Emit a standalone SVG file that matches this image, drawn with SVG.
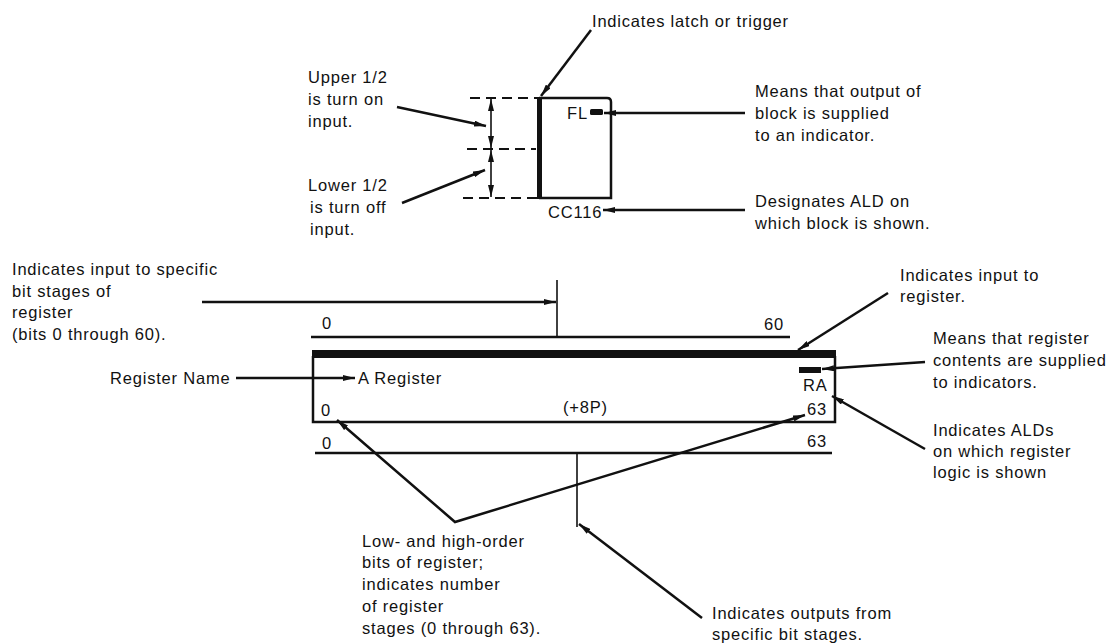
<svg xmlns="http://www.w3.org/2000/svg" width="1108" height="643" viewBox="0 0 1108 643">
<style>
text{font-family:"Liberation Sans",Arial,sans-serif;font-size:16.5px;letter-spacing:0.8px;fill:#111}
.c{stroke:#111;stroke-width:2.5;fill:none}
.a{marker-end:url(#ah)}
.thin{stroke:#111;stroke-width:1.6;fill:none}
.d{stroke:#111;stroke-width:2;stroke-dasharray:10 6;fill:none}
.box{stroke:#111;stroke-width:2.5;fill:none}
</style>
<defs>
<marker id="ah" viewBox="0 0 12 6" refX="12" refY="3" markerWidth="12" markerHeight="6" markerUnits="userSpaceOnUse" orient="auto-start-reverse">
<path d="M0,0 L12,3 L0,6 Z" fill="#111"/>
</marker>
</defs>
<rect width="1108" height="643" fill="#fff"/>

<g id="latch-block">
<path class="box" d="M539,98 H607 Q611,98 611,102 V198 H539"/>
<line x1="539.5" y1="97" x2="539.5" y2="199" stroke="#111" stroke-width="5"/>
<text x="567" y="119">FL</text>
<rect x="590" y="109" width="13" height="6" rx="1.5" fill="#111"/>
<text x="548" y="218">CC116</text>
<line class="d" x1="470" y1="98" x2="537" y2="98"/>
<line class="d" x1="467" y1="149" x2="536" y2="149"/>
<line class="d" x1="463" y1="198" x2="537" y2="198"/>
</g>

<g id="register">
<rect x="312" y="350" width="524" height="8" fill="#111"/>
<path class="box" d="M313,356 V422 H835 V356"/>
<text x="358" y="384">A Register</text>
<text x="321" y="416">0</text>
<text x="563" y="413">(+8P)</text>
<text x="803" y="391">RA</text>
<rect x="799" y="367" width="22" height="6" fill="#111"/>
<text x="807" y="415">63</text>
</g>

<g id="input-bus">
<line class="c" x1="311" y1="337" x2="790" y2="337"/>
<text x="322" y="329">0</text>
<text x="764" y="330">60</text>
</g>

<g id="output-bus">
<line class="c" x1="315" y1="453" x2="832" y2="453"/>
<text x="322" y="449">0</text>
<text x="807" y="447">63</text>
</g>

<g id="label-latch"><text x="592" y="27">Indicates latch or trigger</text></g>
<g id="label-upper">
<text x="308" y="83">Upper 1/2</text>
<text x="308" y="105">is turn on</text>
<text x="308" y="127">input.</text>
</g>
<g id="label-lower">
<text x="308" y="191">Lower 1/2</text>
<text x="310" y="213">is turn off</text>
<text x="310" y="235">input.</text>
</g>
<g id="label-fl">
<text x="755" y="97">Means that output of</text>
<text x="755" y="119">block is supplied</text>
<text x="755" y="141">to an indicator.</text>
</g>
<g id="label-ald">
<text x="755" y="207">Designates ALD on</text>
<text x="755" y="229">which block is shown.</text>
</g>
<g id="label-specific-input">
<text x="12" y="275">Indicates input to specific</text>
<text x="12" y="297">bit stages of</text>
<text x="12" y="318">register</text>
<text x="12" y="340">(bits 0 through 60).</text>
</g>
<g id="label-register-name"><text x="110" y="384">Register Name</text></g>
<g id="label-input-register">
<text x="900" y="281">Indicates input to</text>
<text x="900" y="302">register.</text>
</g>
<g id="label-contents">
<text x="933" y="344">Means that register</text>
<text x="933" y="366">contents are supplied</text>
<text x="933" y="388">to indicators.</text>
</g>
<g id="label-alds">
<text x="933" y="436">Indicates ALDs</text>
<text x="933" y="457">on which register</text>
<text x="933" y="478">logic is shown</text>
</g>
<g id="label-bits">
<text x="362" y="547">Low- and high-order</text>
<text x="362" y="568">bits of register;</text>
<text x="362" y="590">indicates number</text>
<text x="362" y="612">of register</text>
<text x="362" y="634">stages (0 through 63).</text>
</g>
<g id="label-outputs">
<text x="712" y="619">Indicates outputs from</text>
<text x="712" y="640">specific bit stages.</text>
</g>

<g id="connectors">
<line class="c a" x1="591" y1="30" x2="541" y2="96"/>
<line class="c a" x1="397" y1="107" x2="486" y2="126"/>
<line class="c a" x1="402" y1="203" x2="485" y2="170"/>
<line class="thin" x1="491" y1="99" x2="491" y2="148" style="marker-start:url(#ah);marker-end:url(#ah)"/>
<line class="thin" x1="491" y1="150" x2="491" y2="197" style="marker-start:url(#ah);marker-end:url(#ah)"/>
<line class="c a" x1="745" y1="113" x2="604" y2="113"/>
<line class="c a" x1="745" y1="210" x2="603" y2="210"/>
<line class="c a" x1="202" y1="302" x2="556" y2="302"/>
<line class="thin" x1="557" y1="280" x2="557" y2="337"/>
<line class="c a" x1="236" y1="378" x2="355" y2="378"/>
<line class="c a" x1="888" y1="293" x2="798" y2="350"/>
<line class="c a" x1="925" y1="362" x2="822" y2="369"/>
<line class="c a" x1="925" y1="449" x2="832" y2="396"/>
<polyline class="c" points="337,420 455,522 805,415" style="marker-start:url(#ah);marker-end:url(#ah)"/>
<line class="thin" x1="577" y1="453" x2="577" y2="527"/>
<line class="c a" x1="702" y1="618" x2="579" y2="524"/>
</g>
</svg>
